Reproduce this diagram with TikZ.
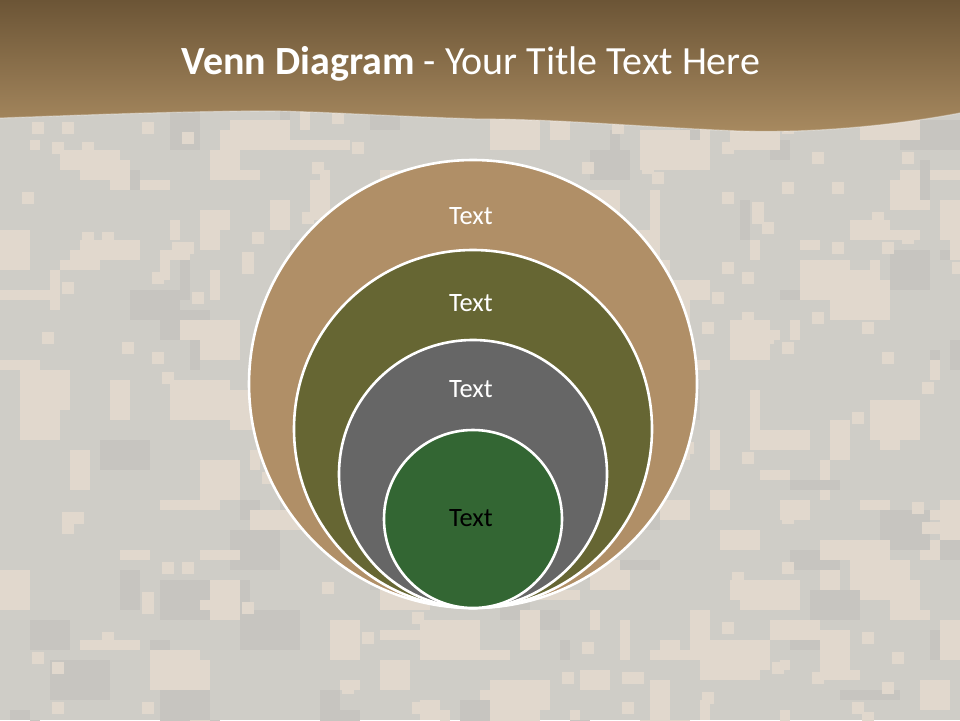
\documentclass[tikz,border=0pt]{standalone}
\usepackage{fontspec}
\setmainfont{Carlito}
\definecolor{camobase}{HTML}{CFCDC7}
\definecolor{camolight}{HTML}{E1D8CD}
\definecolor{camodark}{HTML}{C7C5C0}
\definecolor{hdrtop}{HTML}{6C5536}
\definecolor{hdrbot}{HTML}{A88A60}
\definecolor{ringA}{HTML}{B08F67}
\definecolor{ringB}{HTML}{666633}
\definecolor{ringC}{HTML}{666666}
\definecolor{ringD}{HTML}{336633}
\tikzset{
  ring/.style={circle, draw=white, line width=2.6pt, inner sep=0pt},
  lbl/.style={font=\fontsize{26.5}{30}\selectfont, text=white},
}
\begin{document}
\begin{tikzpicture}[x=1pt,y=-1pt]
\useasboundingbox (0,0) rectangle (960,720);
\fill[camobase] (0,0) rectangle (960,720);
% camouflage blocks
\pgfmathsetseed{7}
\foreach \i in {1,...,300}{
  \pgfmathsetmacro{\bx}{10*int(random(0,96))}
  \pgfmathsetmacro{\by}{10*int(random(10,72))}
  \pgfmathsetmacro{\bw}{10*int(random(1,6))}
  \pgfmathsetmacro{\bh}{10*int(random(1,4))}
  \pgfmathsetmacro{\bc}{random(0,2)}
  \ifnum\bc=0
    \fill[camodark] (\bx,\by) rectangle ++(\bw,\bh);
  \else
    \fill[camolight] (\bx,\by) rectangle ++(\bw,\bh);
  \fi
}
\foreach \i in {1,...,160}{
  \pgfmathsetmacro{\bx}{10*int(random(0,96))+2}
  \pgfmathsetmacro{\by}{10*int(random(10,72))+2}
  \fill[camolight] (\bx,\by) rectangle ++(12,12);
}
% header
\shade[top color=hdrtop, bottom color=hdrbot]
  (0,0) -- (960,0) -- (960,113)
  .. controls (880,128) and (800,133) .. (740,131)
  .. controls (640,127) and (560,119) .. (480,119)
  .. controls (380,116) and (300,110) .. (250,111)
  .. controls (150,112) and (60,116) .. (0,118) -- cycle;
\draw[white, opacity=0.35, line width=1.2pt] (960,113)
  .. controls (880,128) and (800,133) .. (740,131)
  .. controls (640,127) and (560,119) .. (480,119)
  .. controls (380,116) and (300,110) .. (250,111)
  .. controls (150,112) and (60,116) .. (0,118);
\node[text=white, font=\fontsize{40}{46}\selectfont, anchor=base] (title) at (471,74)
  {\textbf{Venn Diagram} - Your Title Text Here};
% rings
\node[ring, fill=ringA, minimum size=448pt] (c1) at (473,384) {};
\node[ring, fill=ringB, minimum size=358pt] (c2) at (473,429) {};
\node[ring, fill=ringC, minimum size=268pt] (c3) at (473,474) {};
\node[ring, fill=ringD, minimum size=178pt] (c4) at (473,519) {};
\node[lbl] (t1) at (471,216) {Text};
\node[lbl] (t2) at (471,303) {Text};
\node[lbl] (t3) at (471,389) {Text};
\node[lbl, text=black] (t4) at (471,518) {Text};
\end{tikzpicture}
\end{document}
